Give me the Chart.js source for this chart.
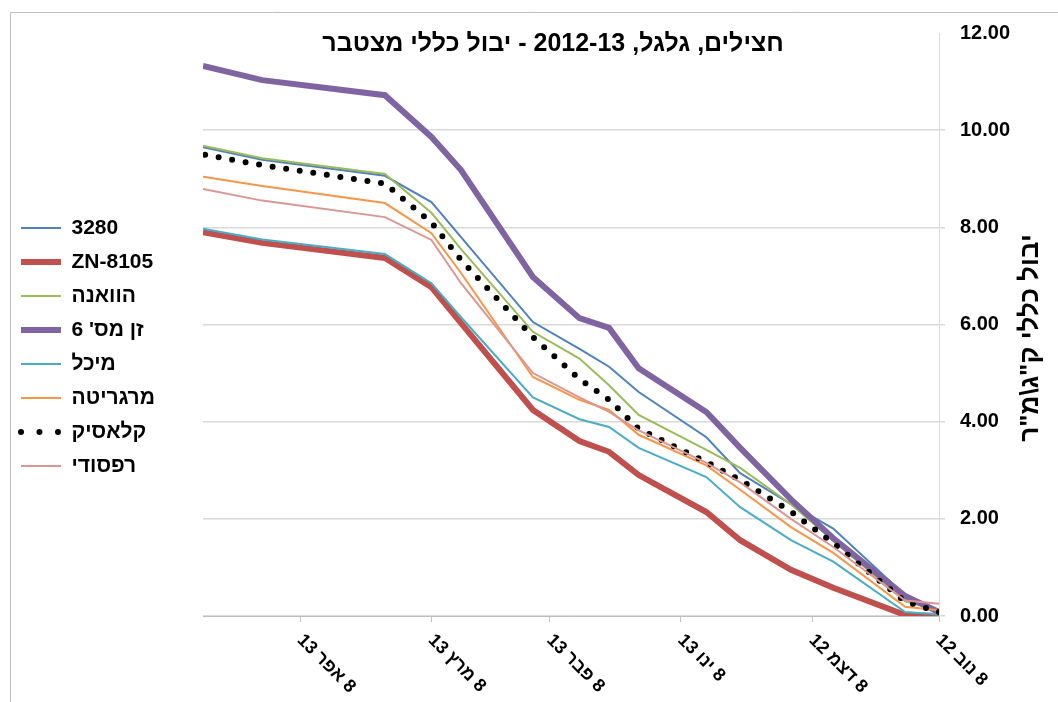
<!DOCTYPE html>
<html>
<head>
<meta charset="utf-8">
<script src="https://cdn.jsdelivr.net/npm/chart.js@4.4.1/dist/chart.umd.min.js"></script>
<style>
  html, body { margin: 0; padding: 0; background: #fff; }
</style>
</head>
<body>
<canvas id="yieldChart" width="1058" height="702"></canvas>
<script>
// harvest dates and cumulative yield (kg/m2) per variety
const dates = ['2012-11-08', '2012-11-16', '2012-12-03', '2012-12-13', '2012-12-25', '2013-01-02', '2013-01-18', '2013-01-25',
               '2013-02-01', '2013-02-12', '2013-03-01', '2013-03-08', '2013-03-19', '2013-04-17', '2013-05-01'];
const v3280     = [0.12, 0.43, 1.80, 2.30, 2.94, 3.68, 4.61, 5.13, 5.50, 6.05, 7.80, 8.52, 9.06, 9.39, 9.65];
const vZN8105   = [0.00, 0.02, 0.58, 0.95, 1.56, 2.14, 2.90, 3.38, 3.60, 4.24, 6.03, 6.77, 7.37, 7.68, 7.90];
const vHavana   = [0.12, 0.30, 1.55, 2.30, 3.05, 3.42, 4.14, 4.75, 5.30, 5.85, 7.55, 8.30, 9.10, 9.42, 9.68];
const vZen6     = [0.08, 0.41, 1.60, 2.40, 3.46, 4.20, 5.10, 5.93, 6.13, 6.98, 9.18, 9.86, 10.72, 11.03, 11.32];
const vMichal   = [0.03, 0.08, 1.12, 1.56, 2.24, 2.86, 3.46, 3.89, 4.05, 4.50, 6.15, 6.85, 7.45, 7.75, 7.97];
const vMargarita = [0.12, 0.19, 1.30, 1.83, 2.60, 3.10, 3.73, 4.24, 4.45, 4.92, 7.06, 7.88, 8.50, 8.85, 9.04];
const vClassic  = [0.08, 0.30, 1.50, 2.15, 2.80, 3.17, 3.85, 4.45, 4.88, 5.74, 7.33, 8.10, 8.90, 9.28, 9.50];
const vRapsodi  = [0.25, 0.32, 1.42, 2.00, 2.75, 3.15, 3.82, 4.20, 4.50, 5.00, 6.85, 7.74, 8.21, 8.55, 8.79];

const seriesNames = ['3280', 'ZN-8105', 'הוואנה', "זן מס' 6", 'מיכל', 'מרגריטה', 'קלאסיק', 'רפסודי'];
const seriesValues = [v3280, vZN8105, vHavana, vZen6, vMichal, vMargarita, vClassic, vRapsodi];

const tickDates = ['2012-11-08', '2012-12-08', '2013-01-08', '2013-02-08', '2013-03-08', '2013-04-08'];
const tickLabels = ['8 נוב 12', '8 דצמ 12', '8 ינו 13', '8 פבר 13', '8 מרץ 13', '8 אפר 13'];

const chartTitle = 'חצילים, גלגל, 2012-13 - יבול כללי מצטבר';
const yTitle = 'יבול כללי ק"ג\\מ"ר';

const FONT = 'Arial, "Liberation Sans", sans-serif';
const dayZero = Date.UTC(2012, 10, 8);

function toDay(s) {
    const [y, m, d] = s.split('-').map(Number);
    return (Date.UTC(y, m - 1, d) - dayZero) / 86400000;
}

const styles = [
    { color: '#4F81BD', width: 2 },
    { color: '#C0504D', width: 6 },
    { color: '#9BBB59', width: 2 },
    { color: '#8064A2', width: 6 },
    { color: '#4BACC6', width: 2 },
    { color: '#F79646', width: 2 },
    { color: '#000000', width: 6, dash: [0, 13.7], legendDash: [0, 18.5] },
    { color: '#DA9694', width: 2 }
];

const datasets = seriesNames.map((name, i) => ({
    label: name,
    data: dates.map((d, j) => ({ x: toDay(d), y: seriesValues[i][j] })),
    borderColor: styles[i].color,
    backgroundColor: styles[i].color,
    borderWidth: styles[i].width,
    borderDash: styles[i].dash || [],
    borderCapStyle: styles[i].dash ? 'round' : 'butt',
    pointRadius: 0,
    tension: 0,
    order: seriesNames.length - i
}));

// fixed legend width so the plot starts where the original does, and legend lifted a bit
const legendPlace = {
    id: 'legendPlace',
    beforeInit(chart) {
        const fit = chart.legend.fit;
        chart.legend.fit = function () {
            fit.call(this);
            this.width = 195;
        };
    },
    afterLayout(chart) {
        chart.legend.top = -8;
    }
};

// title, rotated axis texts and the outer frame
const chartText = {
    id: 'chartText',
    afterDraw(chart) {
        const { ctx, chartArea, scales } = chart;
        ctx.save();
        ctx.strokeStyle = '#bfbfbf';
        ctx.lineWidth = 1;
        ctx.beginPath();
        ctx.moveTo(10.5, 702);
        ctx.lineTo(10.5, 12.5);
        ctx.lineTo(1058, 12.5);
        ctx.stroke();

        ctx.direction = 'rtl';
        ctx.fillStyle = '#000';
        ctx.font = 'bold 25px ' + FONT;
        ctx.textAlign = 'center';
        ctx.textBaseline = 'middle';
        ctx.fillText(chartTitle, 553, 44);

        ctx.save();
        ctx.font = 'bold 26px ' + FONT;
        ctx.translate(1031, 338);
        ctx.rotate(-Math.PI / 2);
        ctx.fillText(yTitle, 0, 0);
        ctx.restore();

        ctx.font = 'bold 18px ' + FONT;
        ctx.textAlign = 'left';
        ctx.textBaseline = 'top';
        tickDates.forEach((d, i) => {
            const x = scales.x.getPixelForValue(toDay(d));
            ctx.save();
            ctx.translate(x + 6, chartArea.bottom + 15);
            ctx.rotate(Math.PI / 4);
            ctx.fillText(tickLabels[i], 0, 0);
            ctx.restore();
        });
        ctx.restore();
    }
};

new Chart(document.getElementById('yieldChart'), {
    type: 'line',
    data: { datasets },
    options: {
        responsive: false,
        animation: false,
        devicePixelRatio: 1,
        layout: { padding: { left: 8, top: 33, right: 0, bottom: 0 } },
        plugins: {
            legend: {
                position: 'left',
                textDirection: 'rtl',
                labels: {
                    usePointStyle: true,
                    pointStyle: 'line',
                    pointStyleWidth: 40,
                    boxWidth: 40,
                    padding: 13,
                    color: '#000',
                    font: { family: FONT, size: 21, weight: 'bold' },
                    sort: (a, b) => a.datasetIndex - b.datasetIndex,
                    generateLabels: chart => Chart.defaults.plugins.legend.labels.generateLabels(chart).map(item => {
                        const st = styles[item.datasetIndex];
                        item.strokeStyle = st.color;
                        item.lineWidth = st.width;
                        item.lineDash = st.legendDash || [];
                        item.lineCap = st.dash ? 'round' : 'butt';
                        return item;
                    })
                }
            },
            tooltip: { enabled: false }
        },
        scales: {
            x: {
                type: 'linear',
                reverse: true,
                min: 0,
                max: toDay(dates[dates.length - 1]),
                afterBuildTicks: s => { s.ticks = tickDates.map(d => ({ value: toDay(d) })); },
                afterFit: s => { s.height = 86; },
                ticks: { display: false },
                grid: { drawOnChartArea: false, tickLength: 6, color: '#bfbfbf' },
                border: { color: '#bfbfbf' }
            },
            y: {
                position: 'right',
                min: 0,
                max: 12,
                afterFit: s => { s.width = 119; },
                ticks: {
                    stepSize: 2,
                    padding: 15,
                    color: '#000',
                    font: { family: FONT, size: 20, weight: 'bold' },
                    callback: v => v.toFixed(2)
                },
                grid: {
                    color: c => c.tick && c.tick.value === 12 ? 'rgba(0,0,0,0)' : '#d9d9d9',
                    lineWidth: 1.5,
                    tickLength: 6
                },
                border: { color: '#d9d9d9' }
            }
        }
    },
    plugins: [legendPlace, chartText]
});
</script>
</body>
</html>
